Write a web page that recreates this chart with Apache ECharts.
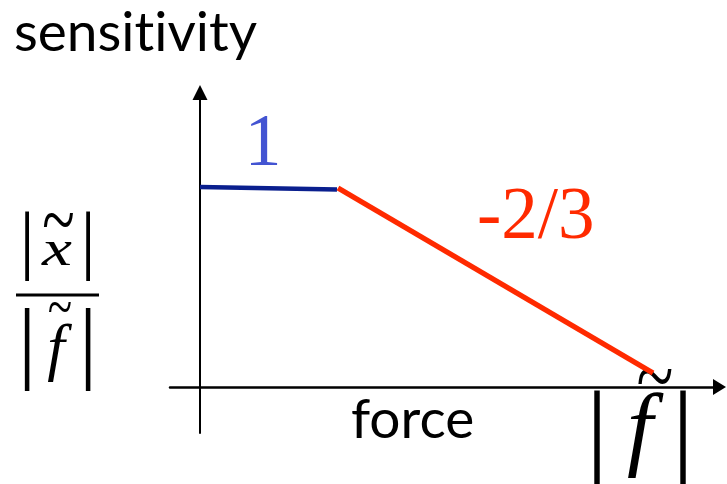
<!DOCTYPE html>
<html>
<head>
<meta charset="utf-8">
<script src="https://cdn.jsdelivr.net/npm/echarts@6/dist/echarts.min.js"></script>
<style>
  html, body { margin: 0; padding: 0; background: #fff; }
  #chart { width: 727px; height: 484px; }
</style>
</head>
<body>
<div id="chart"></div>
<script>
// Sensitivity sketch: flat response (slope 1 region) then a falling -2/3 branch.
// x: force (arbitrary log units), y: sensitivity (arbitrary log units)
const flatX = [0, 2.74];
const flatY = [4.0, 3.95];
const fallX = [2.76, 9.06];
const fallY = [3.98, 0.28];
const slopeLabels = ['1', '-2/3'];
// ZWNJ keeps the "t" and "i" from fusing into a ligature
const axisTitles = ['sensit\u200Civity', 'force'];

const BLUE_LINE = '#0a1f8e';
const BLUE_TEXT = '#4354d2';
const RED = '#ff2a00';
const SERIF = "'Liberation Serif', 'DejaVu Serif', serif";
const SANS = "Lato, 'Open Sans', sans-serif";

function pairs(xs, ys) {
  return xs.map((x, i) => [x, ys[i]]);
}

function txt(text, x, y, font, fill, align, extra) {
  return Object.assign({
    type: 'text',
    x: x,
    y: y,
    silent: true,
    style: {
      text: text,
      x: 0,
      y: 0,
      font: font,
      fill: fill,
      align: align || 'center',
      verticalAlign: 'middle',
      textAlign: align || 'center',
      textVerticalAlign: 'middle'
    }
  }, extra || {});
}

const chart = echarts.init(document.getElementById('chart'), null, { renderer: 'canvas' });

const option = {
  animation: false,
  backgroundColor: '#ffffff',
  grid: { left: 170, right: 7.5, top: 92.5, bottom: 51, containLabel: false },
  xAxis: {
    type: 'value',
    min: -0.6,
    max: 10.39,
    axisLine: {
      onZero: true,
      symbol: ['none', 'triangle'],
      symbolSize: [16, 13],
      lineStyle: { color: '#000', width: 2.5 }
    },
    axisTick: { show: false },
    axisLabel: { show: false },
    splitLine: { show: false }
  },
  yAxis: {
    type: 'value',
    min: -0.92,
    max: 5.89,
    axisLine: {
      onZero: true,
      symbol: ['none', 'triangle'],
      symbolSize: [15, 15],
      lineStyle: { color: '#000', width: 2 }
    },
    axisTick: { show: false },
    axisLabel: { show: false },
    splitLine: { show: false }
  },
  series: [
    {
      type: 'line',
      data: pairs(flatX, flatY),
      showSymbol: false,
      lineStyle: { color: BLUE_LINE, width: 4.5 },
      z: 3
    },
    {
      type: 'line',
      data: pairs(fallX, fallY),
      showSymbol: false,
      lineStyle: { color: RED, width: 5.5 },
      z: 3
    }
  ],
  graphic: [
    // titles
    txt(axisTitles[0], 14, 33, '55px ' + SANS, '#000', 'left'),
    txt(axisTitles[1], 351, 420, '55px ' + SANS, '#000', 'left'),
    // slope annotations
    txt(slopeLabels[0], 263, 146, '74px ' + SERIF, BLUE_TEXT, 'center'),
    txt(slopeLabels[1], 477, 219, '73px ' + SERIF, RED, 'left'),

    // |x~| / |f~| on the left
    txt('|', 27, 245, '76px ' + SERIF, '#000', 'center'),
    txt('|', 88, 245, '76px ' + SERIF, '#000', 'center'),
    txt('x', 57, 252, 'italic 50px ' + SERIF, '#000', 'center', { scaleX: 1.35 }),
    txt('~', 58.5, 226, '40px ' + SERIF, '#000', 'center', { scaleX: 1.5, scaleY: 2 }),
    {
      type: 'line',
      silent: true,
      shape: { x1: 16, y1: 295, x2: 99, y2: 295 },
      style: { stroke: '#000', lineWidth: 3 }
    },
    txt('|', 27, 348, '91px ' + SERIF, '#000', 'center'),
    txt('|', 88, 348, '91px ' + SERIF, '#000', 'center'),
    txt('f', 56, 351, 'italic 63px ' + SERIF, '#000', 'center'),
    txt('~', 60, 311, '30px ' + SERIF, '#000', 'center', { scaleX: 1.5, scaleY: 2 }),

    // |f~| under the end of the force axis
    txt('|', 597, 439, '110px ' + SERIF, '#000', 'center'),
    txt('|', 683, 439, '110px ' + SERIF, '#000', 'center'),
    txt('f', 640, 434, 'italic 93px ' + SERIF, '#000', 'center'),
    txt('~', 655, 383, '44px ' + SERIF, '#000', 'center', { scaleX: 1.55, scaleY: 2 }),

    // formula continuing from above the frame
    txt('|', 576, -31, '60px ' + SERIF, '#000', 'center'),
    txt('|', 659, -31, '60px ' + SERIF, '#000', 'center'),
    txt('o', 603, -13, 'italic 40px ' + SERIF, '#000', 'center')
  ]
};

chart.setOption(option);
</script>
</body>
</html>
